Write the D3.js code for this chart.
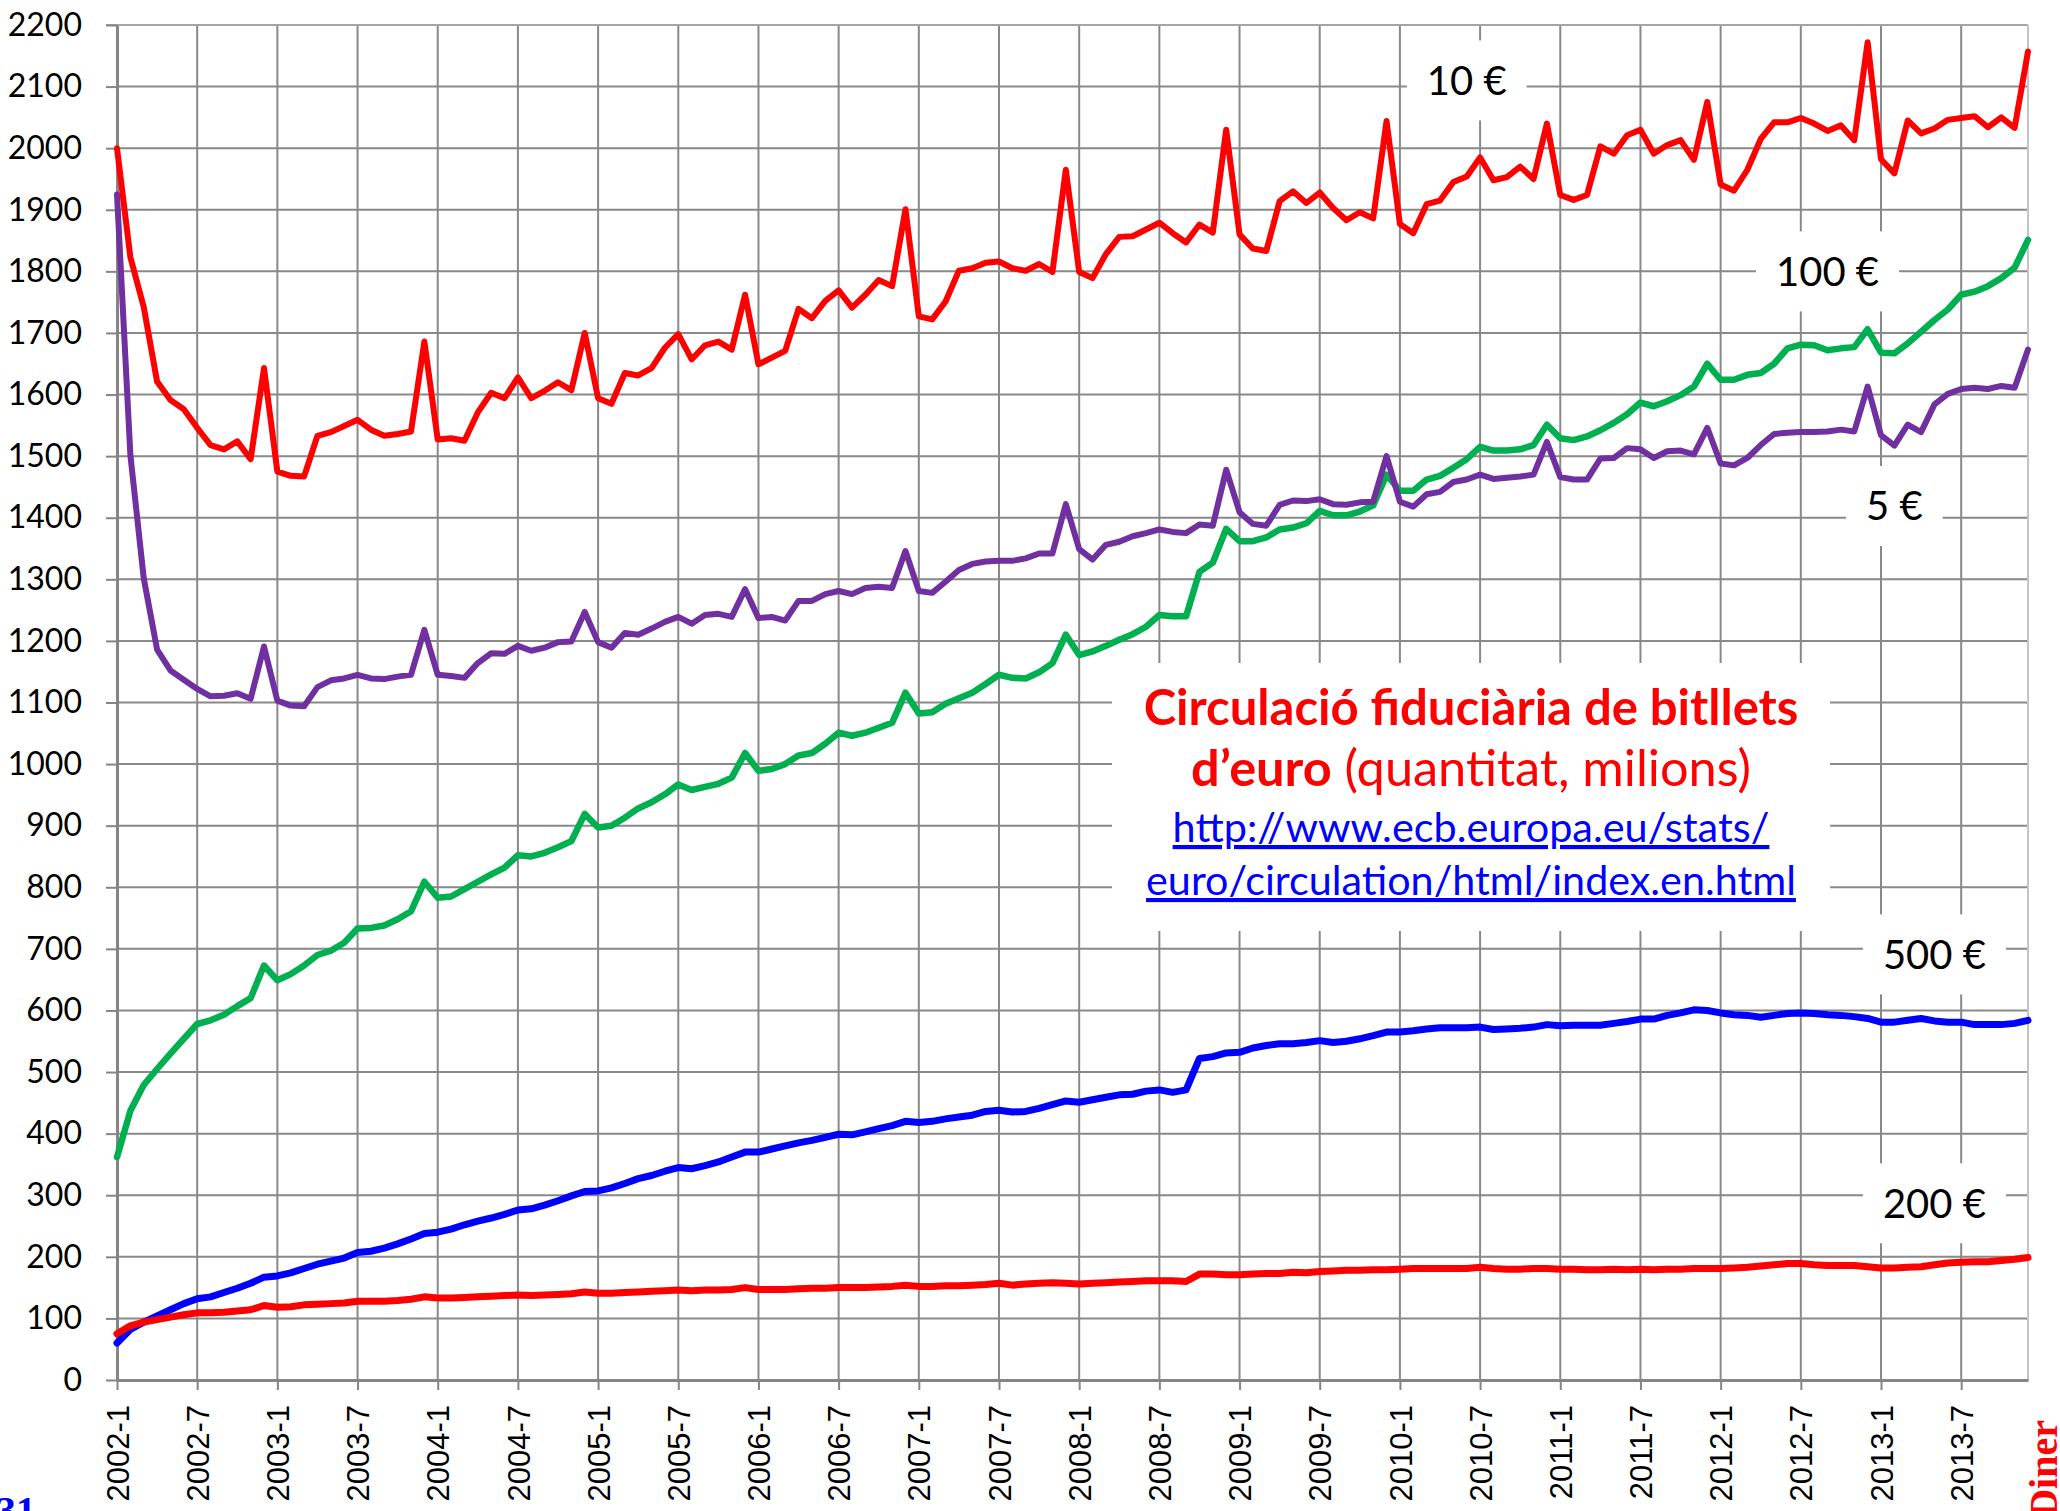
<!DOCTYPE html>
<html>
<head>
<meta charset="utf-8">
<script src="https://cdn.jsdelivr.net/npm/d3@7"></script>
<style>
  body { margin: 0; background: #fff; }
  svg { display: block; }
</style>
</head>
<body>
<div id="container"></div>
<script>
const width = 2060, height = 1511;
// plot frame (Excel-style chart area)
const plotLeft = 117, plotRight = 2028, plotTop = 25, plotBottom = 1380;

// categories: one point per month, Jan 2002 .. Dec 2013
const years = d3.range(2002, 2014);
const months = years.flatMap(yr => d3.range(1, 13).map(m => `${yr}-${m}`));
const xTickLabels = months.filter(m => /-(1|7)$/.test(m));
const yTicks = d3.range(0, 2201, 100);

// banknotes in circulation, millions (one row = one year)
const notes10 = [
  2000, 1823, 1742, 1621, 1591, 1576, 1546, 1518, 1511, 1524, 1495, 1643,
  1475, 1468, 1467, 1533, 1539, 1549, 1559, 1543, 1533, 1536, 1540, 1686,
  1527, 1529, 1525, 1571, 1603, 1594, 1628, 1594, 1606, 1620, 1607, 1700,
  1594, 1585, 1635, 1631, 1643, 1676, 1698, 1657, 1680, 1686, 1673, 1762,
  1649, 1660, 1671, 1739, 1724, 1752, 1769, 1741, 1762, 1786, 1776, 1901,
  1727, 1722, 1751, 1801, 1805, 1814, 1816, 1805, 1801, 1812, 1799, 1965,
  1799, 1789, 1828, 1856, 1857, 1868, 1879, 1862, 1847, 1876, 1863, 2030,
  1860, 1837, 1833, 1914, 1930, 1911, 1928, 1903, 1883, 1896, 1886, 2044,
  1877, 1862, 1909, 1915, 1945, 1954, 1985, 1948, 1953, 1970, 1950, 2040,
  1924, 1916, 1924, 2003, 1991, 2021, 2030, 1991, 2005, 2013, 1981, 2075,
  1941, 1931, 1965, 2015, 2042, 2042, 2049, 2040, 2028, 2037, 2013, 2172,
  1982, 1959, 2045, 2024, 2032, 2046, 2049, 2052, 2034, 2050, 2033, 2157
];
const notes5 = [
  1925, 1502, 1302, 1186, 1152, 1137, 1122, 1110, 1111, 1115, 1106, 1191,
  1103, 1095, 1094, 1125, 1136, 1139, 1145, 1139, 1138, 1142, 1145, 1218,
  1145, 1143, 1140, 1164, 1180, 1179, 1192, 1184, 1189, 1198, 1199, 1247,
  1198, 1189, 1213, 1210, 1220, 1231, 1239, 1228, 1242, 1244, 1239, 1284,
  1237, 1239, 1233, 1265, 1265, 1276, 1281, 1276, 1286, 1288, 1286, 1346,
  1281, 1278, 1296, 1315, 1325, 1329, 1330, 1330, 1334, 1342, 1342, 1422,
  1349, 1332, 1356, 1361, 1370, 1375, 1381, 1377, 1375, 1389, 1387, 1478,
  1409, 1390, 1387, 1421, 1428, 1427, 1430, 1422, 1421, 1425, 1426, 1500,
  1426, 1418, 1438, 1442, 1458, 1462, 1470, 1463, 1465, 1467, 1470, 1523,
  1466, 1462, 1462, 1496, 1497, 1513, 1511, 1497, 1508, 1509, 1503, 1546,
  1488, 1485, 1497, 1518, 1536, 1538, 1539, 1539, 1540, 1543, 1540, 1613,
  1534, 1517, 1551, 1539, 1584, 1601, 1609, 1611, 1609, 1614, 1611, 1673
];
const notes100 = [
  362, 437, 479, 505, 530, 554, 578, 584, 593, 607, 620, 673,
  649, 659, 673, 690, 697, 710, 733, 734, 738, 748, 761, 809,
  783, 785, 797, 809, 821, 832, 852, 850, 856, 865, 875, 919,
  897, 900, 913, 928, 938, 951, 967, 958, 963, 968, 978, 1018,
  989, 992, 1000, 1014, 1018, 1033, 1051, 1046, 1051, 1059, 1067, 1116,
  1082, 1084, 1098, 1107, 1116, 1130, 1145, 1140, 1139, 1149, 1164, 1210,
  1177, 1183, 1192, 1202, 1211, 1223, 1242, 1240, 1240, 1312, 1327, 1382,
  1362, 1362, 1368, 1381, 1384, 1391, 1411, 1404, 1404, 1410, 1420, 1470,
  1444, 1444, 1462, 1468, 1481, 1495, 1515, 1509, 1509, 1511, 1518, 1551,
  1529, 1526, 1532, 1542, 1554, 1568, 1587, 1581, 1589, 1599, 1613, 1650,
  1624, 1624, 1632, 1635, 1650, 1675, 1681, 1680, 1672, 1675, 1677, 1706,
  1668, 1667, 1683, 1702, 1721, 1738, 1762, 1767, 1776, 1789, 1806, 1851
];
const notes500 = [
  60, 82, 94, 104, 114, 124, 132, 135, 142, 149, 157, 167,
  169, 174, 181, 188, 193, 198, 207, 209, 214, 221, 229, 238,
  240, 245, 252, 258, 263, 269, 276, 278, 284, 291, 299, 306,
  307, 312, 319, 327, 332, 339, 345, 343, 348, 354, 362, 370,
  370, 375, 380, 385, 389, 394, 399, 398, 403, 408, 413, 420,
  418, 420, 424, 427, 430, 436, 438, 435, 436, 441, 447, 453,
  451, 455, 459, 463, 464, 469, 471, 467, 471, 522, 525, 531,
  532, 539, 543, 546, 546, 548, 551, 548, 550, 554, 559, 565,
  565, 567, 570, 572, 572, 572, 573, 569, 570, 571, 573, 577,
  575, 576, 576, 576, 579, 582, 586, 586, 592, 596, 601, 600,
  596, 593, 592, 589, 592, 595, 596, 595, 593, 592, 590, 587,
  581, 581, 584, 587, 583, 581, 581, 577, 577, 577, 579, 584
];
const notes200 = [
  75, 88, 94, 98, 102, 106, 109, 109, 110, 112, 114, 121,
  118, 119, 122, 123, 124, 125, 128, 128, 128, 129, 131, 135,
  133, 133, 134, 135, 136, 137, 138, 137, 138, 139, 140, 143,
  141, 141, 142, 143, 144, 145, 146, 145, 146, 146, 147, 150,
  147, 147, 147, 148, 149, 149, 150, 150, 150, 151, 152, 154,
  152, 152, 153, 153, 154, 155, 157, 154, 156, 157, 158, 157,
  156, 157, 158, 159, 160, 161, 161, 161, 160, 172, 172, 171,
  171, 172, 173, 173, 175, 174, 176, 177, 178, 178, 179, 179,
  180, 181, 181, 181, 181, 181, 183, 181, 180, 180, 181, 181,
  180, 180, 179, 179, 180, 179, 180, 179, 180, 180, 181, 181,
  181, 182, 183, 185, 187, 189, 189, 187, 186, 186, 186, 184,
  182, 182, 183, 184, 187, 190, 191, 192, 192, 194, 196, 199
];

const series = [
  { values: notes100, color: "#00b050", width: 6.5 },
  { values: notes5,   color: "#7030a0", width: 6 },
  { values: notes500, color: "#0000ff", width: 7 },
  { values: notes200, color: "#ff0000", width: 7 },
  { values: notes10,  color: "#ff0000", width: 6 }
];

// series names placed on white boxes, anchored in data space
const tags = [
  { text: "10 €",  month: "2010-6",  value: 2110 },
  { text: "100 €", month: "2012-9",  value: 1800 },
  { text: "5 €",   month: "2013-2",  value: 1419 },
  { text: "500 €", month: "2013-5",  value: 691 },
  { text: "200 €", month: "2013-5",  value: 287 }
];

const svg = d3.select("#container").append("svg")
    .attr("width", width)
    .attr("height", height)
    .style("background-color", "#fff");

const x = d3.scalePoint().domain(months).range([plotLeft, plotRight]);
const y = d3.scaleLinear().domain([0, 2200]).range([plotBottom, plotTop]);

const gridColor = "#898989";

// horizontal gridlines
svg.append("g").selectAll("line")
    .data(yTicks.filter(d => d > 0 && d < 2200))
    .join("line")
    .attr("x1", plotLeft).attr("x2", plotRight)
    .attr("y1", d => y(d)).attr("y2", d => y(d))
    .attr("stroke", gridColor).attr("stroke-width", 2);

// vertical gridlines every 6 months
svg.append("g").selectAll("line")
    .data(xTickLabels.slice(1))
    .join("line")
    .attr("x1", d => x(d)).attr("x2", d => x(d))
    .attr("y1", plotTop).attr("y2", plotBottom)
    .attr("stroke", gridColor).attr("stroke-width", 2);

// top and right border of the plot area
svg.append("line")
    .attr("x1", plotLeft - 11).attr("x2", plotRight)
    .attr("y1", y(2200)).attr("y2", y(2200))
    .attr("stroke", "#a5a5a5").attr("stroke-width", 2);
svg.append("line")
    .attr("x1", plotRight).attr("x2", plotRight)
    .attr("y1", plotTop).attr("y2", plotBottom)
    .attr("stroke", "#c4c4c4").attr("stroke-width", 2);

// y axis
svg.append("g")
    .attr("transform", `translate(${plotLeft},0)`)
    .call(d3.axisLeft(y).tickValues(yTicks).tickFormat(d3.format("d"))
        .tickSize(11).tickSizeOuter(0).tickPadding(24))
    .call(g => g.select(".domain").attr("stroke", "#858585").attr("stroke-width", 3))
    .call(g => g.selectAll(".tick line").attr("stroke", "#858585").attr("stroke-width", 2))
    .call(g => g.selectAll(".tick text")
        .attr("fill", "#000")
        .style("font-family", "Lato, 'Open Sans', sans-serif")
        .style("font-size", "32px"));

// x axis
svg.append("g")
    .attr("transform", `translate(0,${plotBottom})`)
    .call(d3.axisBottom(x).tickValues(xTickLabels).tickSize(10).tickSizeOuter(0))
    .call(g => g.select(".domain").attr("stroke", "#858585").attr("stroke-width", 3))
    .call(g => g.selectAll(".tick line").attr("stroke", "#858585").attr("stroke-width", 2))
    .call(g => g.selectAll(".tick text")
        .attr("transform", "rotate(-90)")
        .attr("x", -25)
        .attr("y", 0)
        .attr("dy", "0.36em")
        .attr("text-anchor", "end")
        .attr("fill", "#000")
        .style("font-family", "'Liberation Sans', Arial, sans-serif")
        .style("font-size", "31px"));

// series lines
const line = d3.line()
    .x((d, i) => x(months[i]))
    .y(d => y(d));

series.forEach(s => {
    svg.append("path")
        .datum(s.values)
        .attr("d", line)
        .attr("fill", "none")
        .attr("stroke", s.color)
        .attr("stroke-width", s.width)
        .attr("stroke-linejoin", "round")
        .attr("stroke-linecap", "round");
});

// series name tags
const tagSize = 40;
tags.forEach(t => {
    const cx = x(t.month), cy = y(t.value);
    const g = svg.append("g");
    const txt = g.append("text")
        .attr("x", cx)
        .attr("y", cy + tagSize * 0.36)
        .attr("text-anchor", "middle")
        .style("font-family", "Lato, 'Open Sans', sans-serif")
        .style("font-size", tagSize + "px")
        .attr("fill", "#000")
        .text(t.text);
    const w = txt.node().getComputedTextLength();
    g.insert("rect", "text")
        .attr("x", cx - w / 2 - 20)
        .attr("y", cy - 40)
        .attr("width", w + 40)
        .attr("height", 80)
        .attr("fill", "#fff");
});

// title box
const boxX0 = 1112, boxX1 = 1830, boxY0 = 663, boxY1 = 931;
const boxCx = (boxX0 + boxX1) / 2;
svg.append("rect")
    .attr("x", boxX0).attr("y", boxY0)
    .attr("width", boxX1 - boxX0).attr("height", boxY1 - boxY0)
    .attr("fill", "#fff");

function fitWidth(sel, target) {
    const size = parseFloat(sel.style("font-size"));
    const w = sel.node().getComputedTextLength();
    sel.style("font-size", (size * target / w) + "px");
}

const titleFont = "Lato, 'Open Sans', sans-serif";

const t1 = svg.append("text")
    .attr("x", boxCx).attr("y", 725)
    .attr("text-anchor", "middle")
    .style("font-family", titleFont)
    .style("font-size", "48px")
    .style("font-weight", "bold")
    .attr("fill", "#ff0000")
    .text("Circulació fiduciària de bitllets");
fitWidth(t1, 655);

const t2 = svg.append("text")
    .attr("x", boxCx).attr("y", 786)
    .attr("text-anchor", "middle")
    .style("font-family", titleFont)
    .style("font-size", "46px")
    .attr("fill", "#ff0000");
t2.append("tspan").style("font-weight", "bold").text("d’euro");
t2.append("tspan").text(" (quantitat, milions)");
fitWidth(t2, 560);

const urlLines = ["http://www.ecb.europa.eu/stats/", "euro/circulation/html/index.en.html"];
const urlTargets = [597, 650];
const urlBase = [842, 895];
urlLines.forEach((u, i) => {
    const t = svg.append("text")
        .attr("x", boxCx).attr("y", urlBase[i])
        .attr("text-anchor", "middle")
        .style("font-family", titleFont)
        .style("font-size", "42px")
        .style("text-decoration", "underline")
        .attr("fill", "#0000ff")
        .text(u);
    fitWidth(t, urlTargets[i]);
});

// page number and running head, cut by the image edge as in the scan
svg.append("text")
    .attr("x", -4).attr("y", 1524)
    .style("font-family", "'Liberation Serif', 'DejaVu Serif', serif")
    .style("font-size", "40px")
    .style("font-weight", "bold")
    .attr("fill", "#0000ff")
    .text("31");

svg.append("text")
    .attr("transform", "translate(2057,1420) rotate(-90)")
    .attr("text-anchor", "end")
    .style("font-family", "'Liberation Serif', 'DejaVu Serif', serif")
    .style("font-size", "40px")
    .style("font-weight", "bold")
    .attr("fill", "#ff0000")
    .text("Diner");
</script>
</body>
</html>
